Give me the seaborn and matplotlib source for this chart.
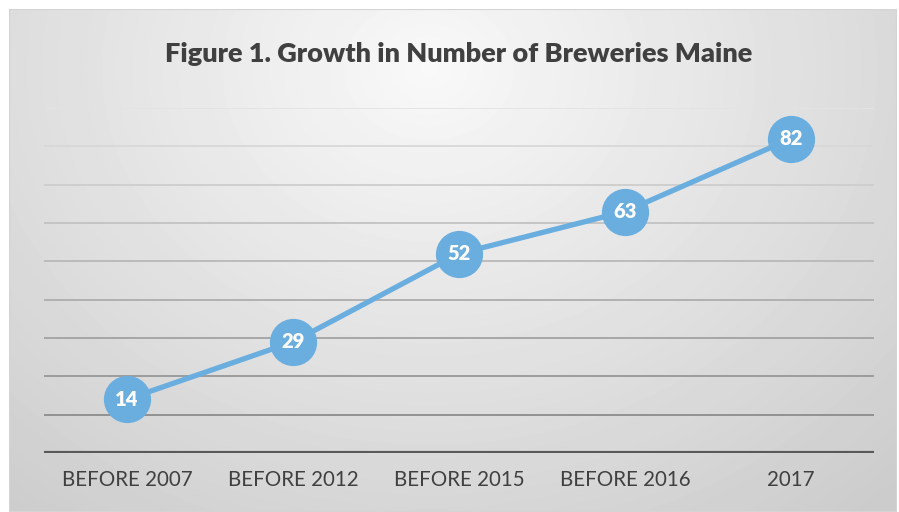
import numpy as np
import pandas as pd
import matplotlib
matplotlib.use("Agg")
import matplotlib.pyplot as plt
import seaborn as sns
from matplotlib.patches import Rectangle

categories = ["BEFORE 2007", "BEFORE 2012", "BEFORE 2015", "BEFORE 2016", "2017"]
breweries = [14, 29, 52, 63, 82]
grid_values = [10, 20, 30, 40, 50, 60, 70, 80, 90]
title = "Figure 1. Growth in Number of Breweries Maine"

sns.set_theme(style="white")
plt.rcParams["font.family"] = ["Lato", "DejaVu Sans"]

W, H = 899, 512
fig = plt.figure(figsize=(W / 100, H / 100), dpi=100)
fig.patch.set_facecolor("white")

# soft radial gradient behind the chart area
bg = fig.add_axes([9 / W, 0, (897 - 9) / W, (512 - 9) / H], zorder=0)
yy, xx = np.mgrid[0:503, 0:888]
d = np.sqrt(((xx - 420) / 620.0) ** 2 + ((yy - 60) / 520.0) ** 2)
shade = np.clip(0.975 - 0.16 * d, 0.80, 0.975)
bg.imshow(shade, cmap="gray", vmin=0, vmax=1, aspect="auto",
          extent=[0, 1, 0, 1], origin="upper", interpolation="bilinear")
bg.add_patch(Rectangle((0, 0), 1, 1, transform=bg.transAxes, fill=False,
                       edgecolor="#d4d4d4", linewidth=1.5))
bg.set_axis_off()

ax = fig.add_axes([44 / W, (512 - 453) / H, (874 - 44) / W, (453 - 108) / H], zorder=1)
ax.patch.set_alpha(0)
ax.set_xlim(-0.5, len(categories) - 0.5)
ax.set_ylim(0, 90)

# horizontal gridlines, darker toward the bottom
for v in grid_values:
    t = (v - 10) / 80.0
    g = 0.55 + 0.34 * t
    ax.axhline(v, color=(g, g, g), linewidth=1.3, zorder=1)
ax.axhline(0, color="#595959", linewidth=3.0, zorder=2)

df = pd.DataFrame({"pos": np.arange(len(categories)), "count": breweries})
sns.lineplot(data=df, x="pos", y="count", ax=ax, color="#6aaddf",
             linewidth=3.8, marker="o", markersize=34, markeredgewidth=0,
             zorder=3)

for x, v in zip(df["pos"], df["count"]):
    ax.text(x, v, str(v), ha="center", va="center", color="white",
            fontsize=14.5, fontweight="heavy", zorder=4)

ax.set_xticks(df["pos"])
ax.set_xticklabels(categories, fontsize=14.8, color="#404040")
ax.tick_params(axis="x", length=0, pad=12)
ax.set_yticks([])
ax.set_xlabel("")
ax.set_ylabel("")
for s in ax.spines.values():
    s.set_visible(False)

fig.text(459 / W, 1 - 54 / H, title, ha="center", va="center",
         fontsize=19.5, fontweight="heavy", color="#404040")

fig.savefig("out.png", dpi=100)
